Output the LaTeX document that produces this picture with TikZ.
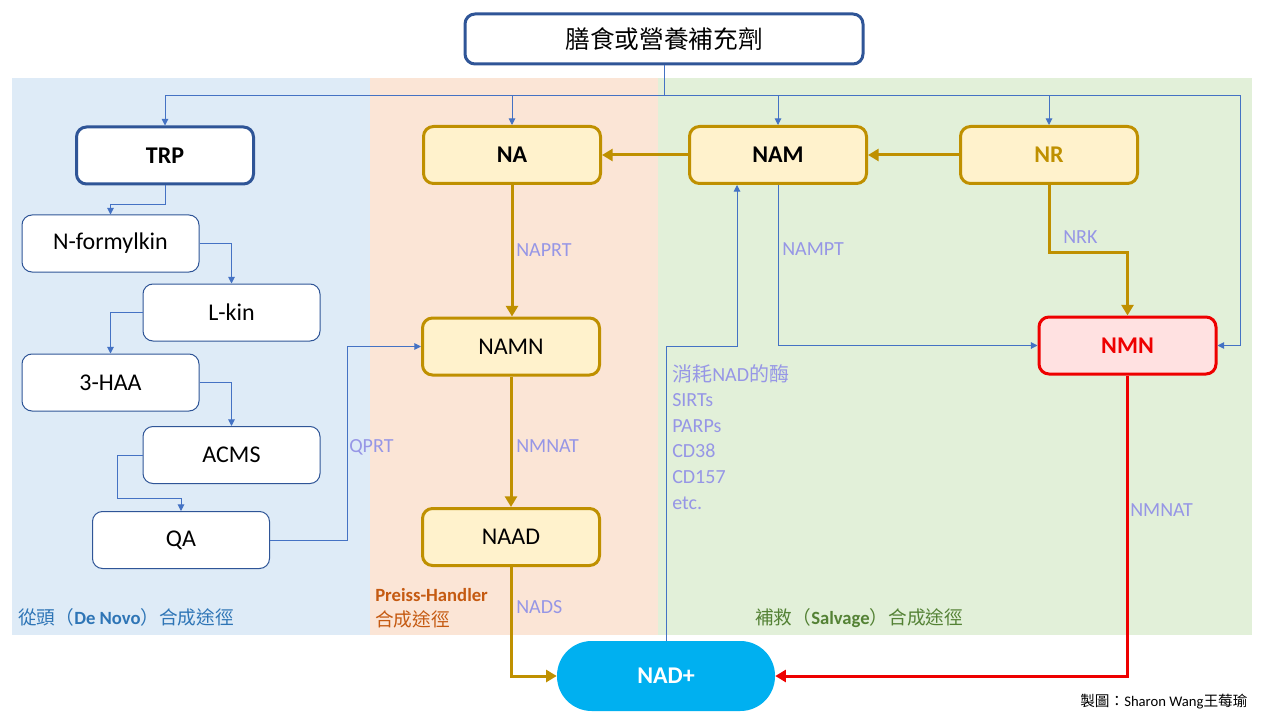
\documentclass[tikz,border=0pt]{standalone}
\usepackage{fontspec}
\setmainfont{Carlito}
\newfontfamily\cjk{Noto Sans CJK TC}
\usetikzlibrary{arrows.meta,calc}
\definecolor{bgblue}{HTML}{DEEBF7}
\definecolor{bgorange}{HTML}{FBE5D6}
\definecolor{bggreen}{HTML}{E2F0D9}
\definecolor{dkblue}{HTML}{2F5597}
\definecolor{lnblue}{HTML}{4472C4}
\definecolor{gold}{HTML}{BF9000}
\definecolor{goldfill}{HTML}{FFF2CC}
\definecolor{nmnred}{HTML}{EE0000}
\definecolor{nmnfill}{HTML}{FFE1E1}
\definecolor{nadblue}{HTML}{00B0F0}
\definecolor{enzcol}{RGB}{150,150,230}
\definecolor{lblblue}{HTML}{2E75B6}
\definecolor{lblorange}{HTML}{C55A11}
\definecolor{lblgreen}{HTML}{548235}
\begin{document}
\begin{tikzpicture}[x=0.75pt,y=-0.75pt,
  box/.style={draw=dkblue, line width=0.75pt, fill=white, rounded corners=7.5pt,
    minimum width=132.75pt, minimum height=42.75pt, inner sep=0pt,
    font=\fontsize{18}{20}\selectfont},
  trpbox/.style={box, line width=2.25pt, font=\fontsize{18}{20}\selectfont\bfseries},
  gbox/.style={box, draw=gold, fill=goldfill, line width=2.25pt},
  bl/.style={draw=lnblue, line width=0.75pt},
  bla/.style={bl, -{Triangle[length=5pt,width=5pt]}},
  gla/.style={draw=gold, line width=2.25pt, -{Triangle[length=8pt,width=9pt]}},
  rda/.style={draw=nmnred, line width=2.25pt, -{Triangle[length=8pt,width=9pt]}},
  enz/.style={text=enzcol, font=\fontsize{15}{18}\selectfont, anchor=west, inner sep=0pt},
]
\useasboundingbox (0,0) rectangle (1280,720);
% backgrounds
\fill[bgblue] (12,78) rectangle (370,635);
\fill[bgorange] (370,78) rectangle (658,635);
\fill[bggreen] (658,78) rectangle (1252,635);

% top node
\node[draw=dkblue, line width=2.25pt, fill=white, rounded corners=7.5pt,
  minimum width=298.5pt, minimum height=37.5pt, inner sep=0pt,
  font=\cjk\fontsize{18.5}{20}\selectfont] (top) at (664,39) {膳食或營養補充劑};

% de novo nodes
\node[trpbox] (TRP) at (165,155.5) {TRP};
\node[box] (nfk) at (110.5,243.5) {N-formylkin};
\node[box] (lkin) at (231.5,312.5) {L-kin};
\node[box] (haa) at (110.5,382.5) {3-HAA};
\node[box] (acms) at (231.5,455) {ACMS};
\node[box] (qa) at (181,540) {QA};

% gold nodes
\node[gbox, font=\fontsize{18}{20}\selectfont\bfseries] (NA) at (512,155) {NA};
\node[gbox, font=\fontsize{18}{20}\selectfont\bfseries] (NAM) at (778,155) {NAM};
\node[gbox, font=\fontsize{18}{20}\selectfont\bfseries, text=gold] (NR) at (1049,155) {NR};
\node[gbox] (NAMN) at (511,346.5) {NAMN};
\node[gbox] (NAAD) at (511,537) {NAAD};
\node[box, draw=nmnred, fill=nmnfill, line width=2.25pt, text=nmnred,
  font=\fontsize{18}{20}\selectfont\bfseries] (NMN) at (1127.5,345.5) {NMN};
\node[fill=nadblue, rounded corners=26pt, minimum width=163.5pt, minimum height=52.5pt,
  inner sep=0pt, text=white, font=\fontsize{18}{20}\selectfont\bfseries] (NAD) at (666,676) {NAD+};

% bus from top
\coordinate (bus) at (664,96);
\coordinate (rt) at (1240,96);
\draw[bl] (top.south) -- (bus);
\draw[bla] (bus) -| (TRP.north);
\draw[bla] (bus) -| (NA.north);
\draw[bla] (bus) -| (NAM.north);
\draw[bla] (bus) -| (NR.north);
\draw[bla] (bus) -- (rt) |- (NMN.east);

% de novo chain
\draw[bla] (TRP.south) -- ++(0,19) -| (nfk.north);
\draw[bla] (nfk.east) -| (lkin.north);
\draw[bla] (lkin.west) -| (haa.north);
\draw[bla] (haa.east) -| (acms.north);
\draw[bla] (acms.west) -- ++(-25,0) -- ++(0,43) -| (qa.north);
\draw[bla] (qa.east) -- ++(77,0) |- (NAMN.west);

% blue salvage lines
\draw[bla] (NAM.south) |- (NMN.west);
\draw[bla] (NAD.north) -- (NAD.north |- NAMN.east) -| ($(NAM.south)+(-41,0)$);

% gold arrows
\draw[gla] (NAM.west) -- (NA.east);
\draw[gla] (NR.west) -- (NAM.east);
\draw[gla] (NA.south) -- (NA.south |- NAMN.north);
\draw[gla] (NAMN.south) -- (NAAD.north);
\draw[gla] (NAAD.south) |- (NAD.west);
\draw[gla] (NR.south) -- ++(0,67) -| (NMN.north);
\draw[rda] (NMN.south) |- (NAD.east);

% enzyme labels
\node[enz] (lnaprt) at (516,250) {NAPRT};
\node[enz] (lnmnat1) at (516,446) {NMNAT};
\node[enz] (lnads) at (516,607) {NADS};
\node[enz] (lnampt) at (782,249) {NAMPT};
\node[enz] (lnrk) at (1063,237) {NRK};
\node[enz] (lnmnat2) at (1130,510) {NMNAT};
\node[enz] (lqprt) at (349,447) {QPRT};
\node[enz, anchor=north west, align=left, font=\fontsize{15}{19.2}\selectfont] (lcons) at (672,364)
  {{\cjk 消耗}NAD{\cjk 的酶}\\SIRTs\\PARPs\\CD38\\CD157\\etc.};

% region labels
\node[anchor=west, inner sep=0pt, text=lblblue, font=\fontsize{14}{16}\selectfont] (ldenovo) at (18,617)
  {{\cjk 從頭（}\textbf{De Novo}{\cjk ）合成途徑}};
\node[anchor=west, inner sep=0pt, text=lblorange, font=\fontsize{14}{16}\selectfont\bfseries] (lph1) at (375,595) {Preiss-Handler};
\node[anchor=west, inner sep=0pt, text=lblorange, font=\cjk\fontsize{14}{16}\selectfont] (lph2) at (375,619) {合成途徑};
\node[anchor=west, inner sep=0pt, text=lblgreen, font=\fontsize{14}{16}\selectfont] (lsalv) at (755,618)
  {{\cjk 補救（}\textbf{Salvage}{\cjk ）合成途徑}};
\node[anchor=west, inner sep=0pt, font=\fontsize{11}{13}\selectfont] (credit) at (1080,702)
  {{\cjk 製圖：}Sharon Wang{\cjk 王莓瑜}};
\end{tikzpicture}
\end{document}
